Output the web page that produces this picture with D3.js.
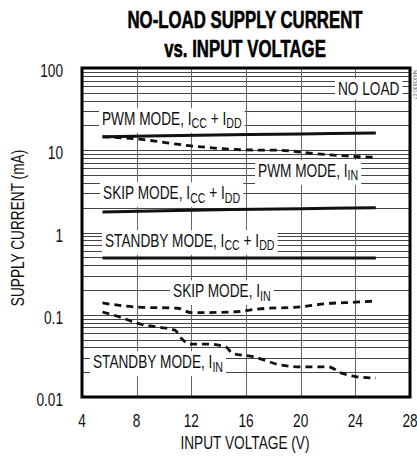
<!DOCTYPE html>
<html><head><meta charset="utf-8">
<script src="https://cdn.jsdelivr.net/npm/d3@7"></script>
<style>html,body{margin:0;padding:0;background:#fff;}svg{display:block;}</style>
</head><body>
<svg id="c" width="417" height="457"></svg>
<script>
// ---- data ----
const xTicks = [4, 8, 12, 16, 20, 24, 28];
const yTicks = [0.01, 0.1, 1, 10, 100];
const yTickLabels = ["0.01", "0.1", "1", "10", "100"];

const voltage = [5.5, 10, 15, 20, 25.5];
const pwmIccIdd = [14.6, 15.0, 15.4, 15.8, 16.2];
const skipIccIdd = [1.78, 1.84, 1.9, 1.95, 2.0];
const standbyIccIdd = [0.49, 0.49, 0.49, 0.49, 0.49];

const pwmInV = [5.5, 8, 12, 16, 18.5, 21, 24, 25.5];
const pwmIn = [14.6, 13.7, 11.3, 10.1, 10.0, 9.1, 8.4, 8.2];
const skipInV = [5.5, 8, 11, 12, 15, 17, 20, 22, 24, 25.5];
const skipIn = [0.139, 0.124, 0.12, 0.106, 0.108, 0.118, 0.125, 0.137, 0.142, 0.147];
const standbyInV = [5.5, 7, 8, 9.5, 10.8, 11.3, 11.9, 13.1, 14.5, 15, 16.5, 18.5, 20, 22, 23, 24, 25.5];
const standbyIn = [0.108, 0.091, 0.079, 0.071, 0.065, 0.051, 0.044, 0.044, 0.041, 0.034, 0.031, 0.0246, 0.0233, 0.0233, 0.0195, 0.0177, 0.017];

// label texts: [text, isSubscript]
const labelTexts = [
  [["NO LOAD", 0]],
  [["PWM MODE, I", 0], ["CC", 1], [" + I", 0], ["DD", 1]],
  [["PWM MODE, I", 0], ["IN", 1]],
  [["SKIP MODE, I", 0], ["CC", 1], [" + I", 0], ["DD", 1]],
  [["STANDBY MODE, I", 0], ["CC", 1], [" + I", 0], ["DD", 1]],
  [["SKIP MODE, I", 0], ["IN", 1]],
  [["STANDBY MODE, I", 0], ["IN", 1]]
];
// label anchors in data units (V, mA)
const labelAnchorV = [22.73, 5.46, 16.88, 5.54, 5.68, 10.66, 4.8];
const labelAnchorI = [47.0, 20.3, 4.73, 2.55, 0.667, 0.164, 0.0225];

// ---- layout ----
const FONT = "'Liberation Sans', Arial, sans-serif";
const SX = 0.76;
const FS = 18;
const svg = d3.select("#c");
const x = d3.scaleLinear().domain([4, 28]).range([82, 410]);
const y = d3.scaleLog().domain([0.01, 100]).range([397, 68]);

// title
const title = ["NO-LOAD SUPPLY CURRENT", "vs. INPUT VOLTAGE"];
[28, 57].forEach((by, i) => {
  svg.append("g").attr("transform", `translate(245,${by}) scale(0.7,1)`)
    .append("text").attr("text-anchor", "middle")
    .attr("font-family", FONT).attr("font-weight", "bold").attr("font-size", 24)
    .attr("stroke", "#000").attr("stroke-width", 0.6)
    .text(title[i]);
});

// grid
const grid = svg.append("g");
const minor = [];
for (let e = -2; e < 2; e++) for (let k = 1; k <= 9; k++) minor.push(k * Math.pow(10, e));
grid.selectAll("line.h").data(minor.filter(v => v > 0.01)).enter().append("line")
  .attr("x1", x(4)).attr("x2", x(28))
  .attr("y1", d => Math.round(y(d)) + 0.5).attr("y2", d => Math.round(y(d)) + 0.5)
  .attr("stroke", "#444").attr("stroke-width", 1);
grid.selectAll("line.v").data(xTicks.slice(1, -1)).enter().append("line")
  .attr("y1", y(100)).attr("y2", y(0.01))
  .attr("x1", d => Math.round(x(d)) + 0.5).attr("x2", d => Math.round(x(d)) + 0.5)
  .attr("stroke", "#666").attr("stroke-width", 1);

// labels with white boxes
labelTexts.forEach((parts, i) => {
  const g = svg.append("g").attr("transform", `translate(${x(labelAnchorV[i])},${y(labelAnchorI[i])}) scale(${SX},1)`);
  const t = g.append("text").attr("font-family", FONT).attr("font-size", FS).attr("fill", "#111");
  parts.forEach(([s, sub], j) => {
    const ts = t.append("tspan").text(s);
    if (sub) ts.attr("font-size", 14).attr("dy", j === 0 ? 0 : 3.5);
    else if (j > 0 && parts[j - 1][1]) ts.attr("dy", -3.5);
  });
  const bb = t.node().getBBox();
  g.insert("rect", "text").attr("x", bb.x - 3 / SX).attr("y", bb.y - 1)
    .attr("width", bb.width + 6 / SX).attr("height", bb.height + 2).attr("fill", "#fff");
});

// curves
const line = d3.line().x(d => x(d[0])).y(d => y(d[1])).curve(d3.curveMonotoneX);
const solid = [pwmIccIdd, skipIccIdd, standbyIccIdd];
solid.forEach(s => {
  svg.append("path").attr("d", line(voltage.map((v, i) => [v, s[i]])))
    .attr("fill", "none").attr("stroke", "#111").attr("stroke-width", 3);
});
const dashed = [[pwmInV, pwmIn], [skipInV, skipIn], [standbyInV, standbyIn]];
dashed.forEach(([vx, vy]) => {
  svg.append("path").attr("d", line(vx.map((v, i) => [v, vy[i]])))
    .attr("fill", "none").attr("stroke", "#111").attr("stroke-width", 2.8)
    .attr("stroke-dasharray", "7,5");
});

// frame
svg.append("rect").attr("x", x(4)).attr("y", y(100))
  .attr("width", x(28) - x(4)).attr("height", y(0.01) - y(100))
  .attr("fill", "none").attr("stroke", "#000").attr("stroke-width", 3);

// y tick labels
yTicks.forEach((v, i) => {
  svg.append("g").attr("transform", `translate(63,${y(v) + 9}) scale(${SX},1)`)
    .append("text").attr("text-anchor", "end").attr("font-family", FONT)
    .attr("font-size", FS).attr("fill", "#111").text(yTickLabels[i]);
});
// x tick labels
xTicks.forEach(v => {
  svg.append("g").attr("transform", `translate(${x(v)},427) scale(${SX},1)`)
    .append("text").attr("text-anchor", "middle").attr("font-family", FONT)
    .attr("font-size", FS).attr("fill", "#111").text(String(v));
});
// axis titles
svg.append("g").attr("transform", `translate(245,449) scale(${SX},1)`)
  .append("text").attr("text-anchor", "middle").attr("font-family", FONT)
  .attr("font-size", FS).attr("fill", "#111").text("INPUT VOLTAGE (V)");
svg.append("g").attr("transform", `translate(24,228) rotate(-90) scale(${SX},1)`)
  .append("text").attr("text-anchor", "middle").attr("font-family", FONT)
  .attr("font-size", FS).attr("fill", "#111").text("SUPPLY CURRENT (mA)");
// side code
svg.append("text").attr("transform", "translate(413,70) rotate(90)")
  .attr("font-family", FONT).attr("font-size", 5).attr("fill", "#555").text("MAX1630-07");
</script>
</body></html>
